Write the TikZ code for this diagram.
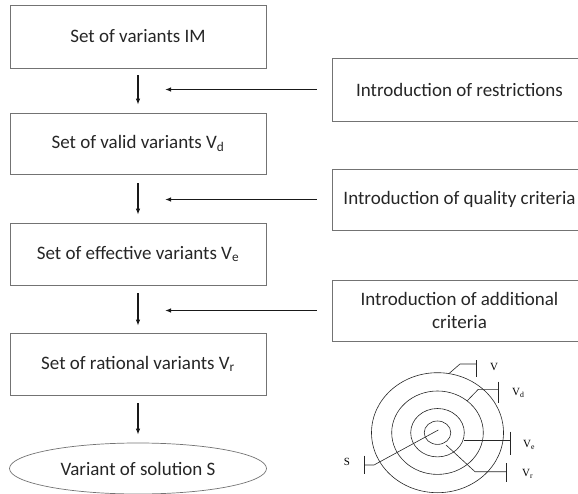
\documentclass[tikz,border=0pt]{standalone}
\usepackage{fontspec}
\setmainfont{Carlito}
\newfontfamily\lblfont{Liberation Serif}
\usetikzlibrary{shapes.geometric,arrows.meta}
\begin{document}
\begin{tikzpicture}[x=1pt,y=-1pt,
  box/.style={draw=black!55, line width=0.7pt, inner sep=0pt, align=center,
    font=\fontsize{19}{23}\selectfont, text=black!85},
  oval/.style={box, ellipse},
  arr/.style={-{Latex[length=6pt,width=4.5pt]}, line width=1.1pt, black!90},
  ring/.style={line width=0.6pt, black!85},
  lbl/.style={font=\lblfont\fontsize{11}{13}\selectfont, inner sep=0pt, anchor=west}
]
\useasboundingbox (0,0) rectangle (578,494);
% left column
\node[box, minimum width=256pt, minimum height=63pt] (b1) at (138,36.5) {Set of variants IM};
\node[box, minimum width=256pt, minimum height=61pt] (b2) at (138,143.5) {Set of valid variants V\textsubscript{d}};
\node[box, minimum width=256pt, minimum height=62pt] (b3) at (138,254) {Set of effective variants V\textsubscript{e}};
\node[box, minimum width=256pt, minimum height=62pt] (b4) at (138,364) {Set of rational variants V\textsubscript{r}};
\node[oval, minimum width=257pt, minimum height=51pt] (e) at (138,468.5) {Variant of solution S};
% right column
\node[box, minimum width=255pt, minimum height=63pt] (r1) at (459.5,89.5) {Introduction of restrictions};
\node[box, minimum width=255pt, minimum height=61pt] (r2) at (459.5,199.5) {Introduction of quality criteria};
\node[box, minimum width=255pt, minimum height=61pt] (r3) at (459.5,310.5) {Introduction of additional\\criteria};
% vertical arrows
\draw[arr] ([yshift=-7pt]b1.south) -- ([yshift=8pt]b2.north);
\draw[arr] ([yshift=-9pt]b2.south) -- ([yshift=8pt]b3.north);
\draw[arr] ([yshift=-8pt]b3.south) -- ([yshift=7pt]b4.north);
\draw[arr] ([yshift=-8pt]b4.south) -- ([yshift=8pt]e.north);
% horizontal arrows
\coordinate (h1) at (165,89.5);
\coordinate (h2) at (165,199.5);
\coordinate (h3) at (165,310.5);
\draw[arr] ([xshift=-15pt]r1.west) -- (h1);
\draw[arr] ([xshift=-15pt]r2.west) -- (h2);
\draw[arr] ([xshift=-15pt]r3.west) -- (h3);
% nested sets diagram
\coordinate (c) at (437.5,432.7);
\draw[ring] (c) ellipse [x radius=66, y radius=60];
\draw[ring] (c) ellipse [x radius=45.8, y radius=41.7];
\draw[ring] (c) ellipse [x radius=26.8, y radius=24.2];
\draw[ring] (c) ellipse [x radius=13.3, y radius=11.7];
% leaders
\draw[ring] (449.3,373.3) -- (460,364) -- (476.7,364);
\draw[ring] (476.7,360) -- (476.7,376.7);
\draw[ring] (467.3,400.7) -- (478.3,389.3) -- (498.3,389.3);
\draw[ring] (498.3,381.7) -- (498.3,403.3);
\draw[ring] (463.5,440) -- (510,440);
\draw[ring] (510,431.7) -- (510,455);
\draw[ring] (446,445) -- (475,471.7) -- (506.7,471.7);
\draw[ring] (506.7,463.3) -- (506.7,481.7);
\draw[ring] (438.3,430) -- (374,465) -- (364,465);
\draw[ring] (364,455.5) -- (364,474);
% labels
\node[lbl] (lv) at (490,367) {V};
\node[lbl] (lvd) at (512,393) {V\textsubscript{d}};
\node[lbl] (lve) at (523,445) {V\textsubscript{e}};
\node[lbl] (lvr) at (522,474) {V\textsubscript{r}};
\node[lbl, anchor=center] (ls) at (347,462) {S};
\end{tikzpicture}
\end{document}
